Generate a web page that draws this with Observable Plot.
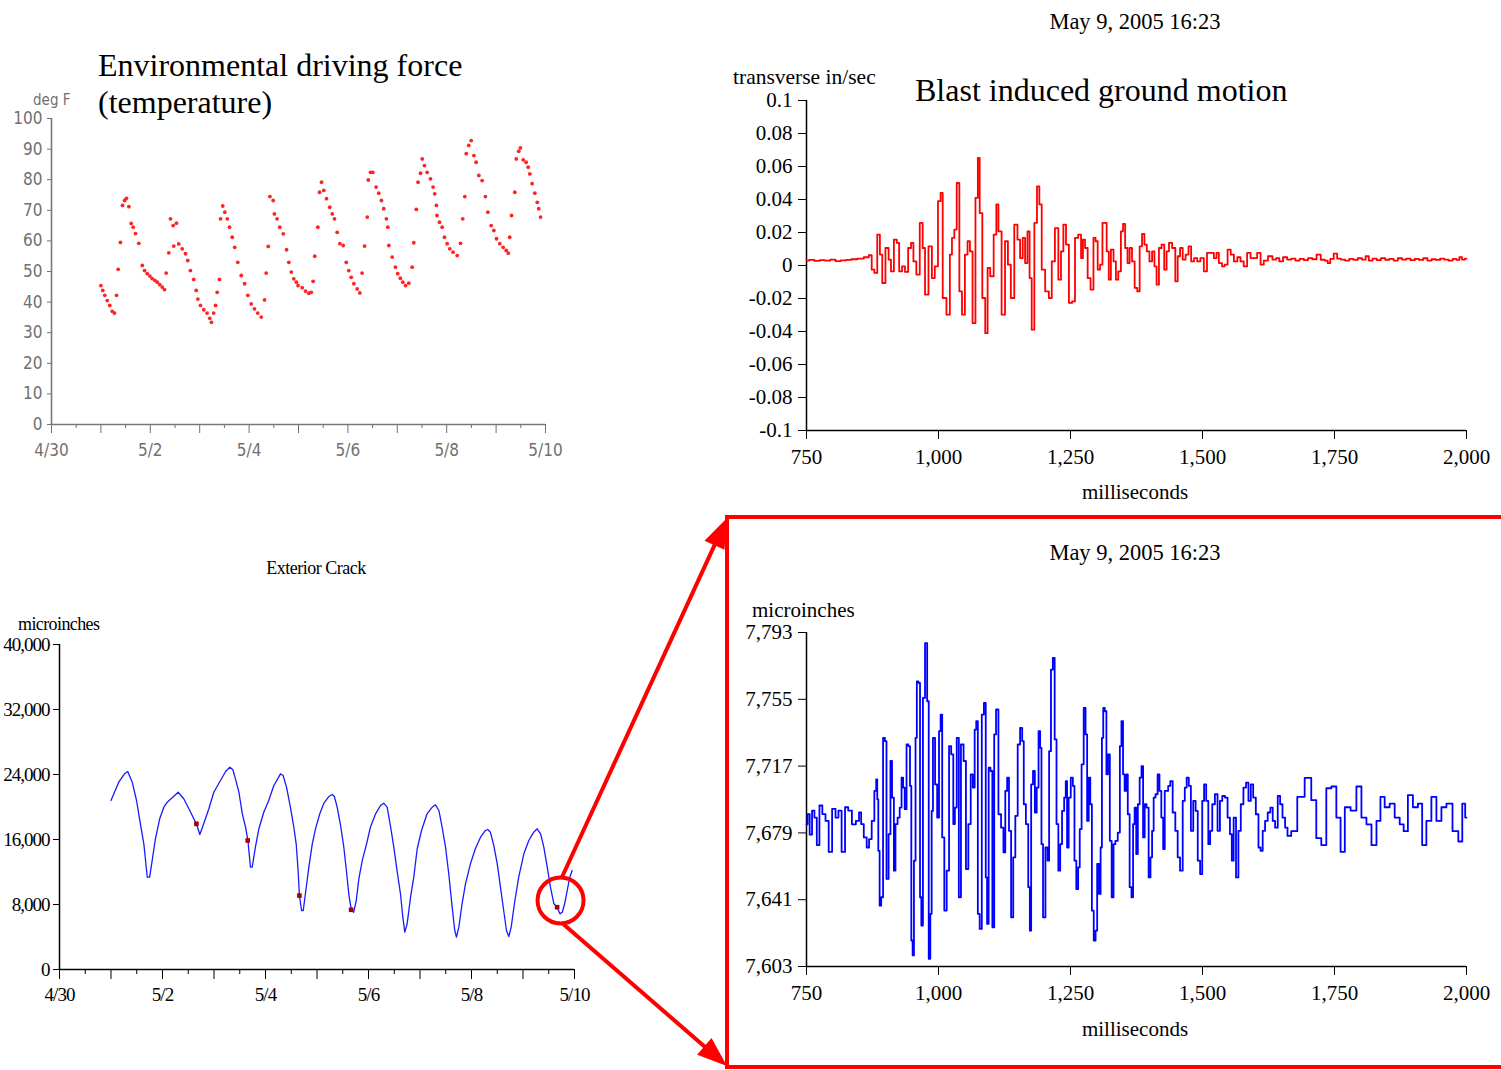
<!DOCTYPE html>
<html><head><meta charset="utf-8">
<script src="https://cdn.jsdelivr.net/npm/d3@7"></script>
<script src="https://cdn.jsdelivr.net/npm/@observablehq/plot@0.6"></script>
<style>
body{margin:0;background:#fff}
#page{position:relative;width:1501px;height:1070px;overflow:hidden;background:#fff;font-family:"Liberation Serif","Times New Roman",serif}
.lbl{position:absolute;white-space:nowrap;line-height:1;color:#000}
</style></head><body><div id="page"></div>
<script>
// ---------------- DATA ----------------
// Temperature (hours since 5/1/2005 00:00, deg F)
const tempHours = [0,0.9,1.9,3.1,4.3,5.5,6.6,7.6,8.4,9.5,10.5,11.5,12.4,13.6,14.7,15.7,16.8,18.4,20.1,21.2,22.5,23.8,24.9,26.2,27.4,28.6,29.8,30.9,31.7,33.0,33.8,35.1,35.4,36.7,37.8,39.5,41.1,42.2,43.5,45.1,46.3,47.1,48.4,50.0,51.6,52.9,53.7,54.8,55.7,56.5,57.6,58.1,59.2,60.2,61.4,62.5,63.8,65.0,66.5,68.2,69.8,71.4,73.0,74.6,76.2,77.9,79.5,80.3,81.3,82.1,83.7,84.3,85.6,86.9,88.6,90.2,91.3,92.5,93.7,95.0,95.8,97.8,99.4,101.0,102.2,103.1,103.9,105.4,106.2,107.2,108.3,109.6,111.2,112.4,113.5,114.8,116.1,117.7,119.2,120.4,121.6,122.9,124.5,125.8,126.9,128.1,129.4,129.9,131.0,132.1,133.7,135.0,136.3,137.4,138.7,139.4,139.9,141.5,143.1,144.2,145.5,146.7,148.0,149.6,151.2,152.0,153.2,154.1,155.3,156.1,157.2,158.5,160.1,161.4,162.2,163.0,163.3,164.5,165.8,166.9,168.2,169.5,171.1,173.1,174.7,175.8,176.8,177.5,178.7,179.9,181.2,182.3,183.6,185.2,186.8,188.0,189.6,190.9,192.2,193.8,195.4,196.9,197.9,198.6,199.5,201.1,201.8,203.0,203.8,205.2,206.6,207.6,208.4,209.5,210.8,212.0,212.7,213.6];
const tempDegF = [45.4,43.8,42.2,40.5,38.9,37.0,36.4,42.2,50.7,59.5,71.6,73.2,73.9,71.2,65.7,64.5,62.4,59.2,52.0,50.3,49.3,48.5,47.7,47.1,46.5,45.7,44.9,44.1,49.5,56.1,67.2,65.0,58.3,65.8,59.0,57.4,55.8,53.6,50.3,47.4,43.8,41.0,38.9,37.5,36.4,34.7,33.4,36.4,38.9,43.2,47.4,67.2,71.4,69.4,67.2,64.5,61.2,57.9,53.0,48.7,46.0,42.2,39.4,37.8,36.4,35.1,40.7,49.5,58.2,74.5,73.2,68.8,67.2,64.5,62.3,57.1,53.0,49.8,47.6,46.5,45.4,44.7,43.6,42.9,43.2,46.8,55.0,64.5,75.9,79.2,76.5,73.8,71.0,68.8,67.2,62.8,59.1,58.5,53.0,50.3,48.1,46.0,44.3,43.0,49.5,58.3,67.8,79.9,82.4,82.4,77.6,75.6,73.2,70.5,67.2,64.5,58.5,54.7,51.4,49.3,47.8,46.5,45.4,46.2,51.4,59.4,70.3,79.2,82.1,86.8,84.6,82.4,80.3,77.6,75.4,71.6,68.3,66.1,64.5,61.2,59.1,57.4,56.3,55.2,59.2,67.2,74.5,88.5,91.2,92.8,87.9,85.7,81.4,79.7,74.5,69.4,65.0,63.4,60.7,59.1,57.9,56.9,56.0,61.2,68.3,75.9,86.8,89.3,90.4,86.5,85.7,84.1,81.9,78.7,75.6,72.6,70.5,67.8];

// Exterior crack (hours since 5/1/2005 00:00, microinches)
const crackHours = [0,3.6,6.3,7.8,9.9,11.9,13.7,15.3,16.9,18.0,19.2,20.7,22.7,24.6,26.2,28.5,31.3,33.9,36.3,38.6,39.8,41.4,43.2,45.6,47.9,51.0,53.4,55.4,56.8,58.0,59.6,61.2,62.7,63.8,65.0,65.8,67.3,68.9,71.2,73.5,75.9,79.0,80.2,81.8,83.6,85.2,86.3,87.2,87.8,88.8,89.6,90.6,92.2,93.8,95.3,97.3,99.2,101.5,103.1,104.1,105.4,107.0,108.5,109.7,110.8,112.0,113.1,114.3,115.5,117.1,119.1,120.9,123.3,125.6,127.1,128.7,130.2,131.8,133.3,134.9,136.0,136.9,138.0,139.6,141.1,142.7,144.7,147.3,149.7,151.2,152.8,154.3,155.9,157.4,159.0,160.2,161.0,162.1,163.6,165.2,167.5,169.8,172.2,174.5,175.6,176.8,178.4,180.0,181.5,183.0,184.3,185.4,186.5,188.0,190.0,192.4,194.7,197.0,198.6,200.2,201.7,203.3,204.8,206.4,207.9,209.2,210.3,211.4,212.6,213.8,214.9];
const crackMicroin = [20800,23050,24080,24370,23050,20800,17930,15470,11360,11360,13420,16090,18550,19980,20590,21130,21820,21010,19780,18550,17930,16620,17930,19780,21820,23260,24370,24900,24580,23470,21820,19160,17510,15880,12590,12590,15050,17320,19360,20800,22650,24080,23880,22440,19980,17510,15470,12180,9100,7260,7260,9320,12590,15470,17320,19160,20470,21290,21540,21290,19980,17720,15050,12180,9320,7350,7050,8490,11160,13420,15470,17510,19160,20180,20470,19980,17720,15050,12180,9320,6440,4590,5620,8900,11360,14860,17110,19160,19980,20270,19570,17510,15050,11780,7670,4800,3980,5210,8090,10550,13010,14860,16280,17110,17230,16900,15260,13010,10130,7260,4800,4060,5210,8090,11360,14240,15880,16900,17320,16700,15050,12590,10130,8090,7670,6850,7050,8090,9720,11360,12180];
const crackMarkHours = [39.8, 63.7, 87.8, 111.9, 207.9];
const crackMarkMicroin = [17930, 15880, 9100, 7350, 7670];
const zoomCircleHours = 209.5;
const zoomCircleMicroin = 8490;

// Blast ground motion, transverse (ms, in/sec)
const blastMs = [750,760,770,780,790,800,810,820,830,840,852,865,871,876,881,887,891,896,903,908,912,919,923,928,934,939,946,950,955,961,968,972,977,985,990,996,1002,1006,1010,1020,1023,1028,1032,1037,1042,1047,1053,1057,1062,1067,1073,1076,1080,1086,1091,1095,1101,1108,1111,1116,1123,1129,1134,1140,1147,1152,1157,1162,1166,1171,1174,1179,1184,1189,1193,1198,1206,1212,1217,1224,1230,1234,1239,1244,1250,1256,1261,1268,1272,1275,1280,1285,1291,1296,1299,1304,1308,1313,1316,1321,1324,1329,1334,1338,1343,1348,1351,1356,1360,1364,1369,1374,1379,1383,1388,1392,1397,1402,1407,1411,1415,1420,1425,1430,1434,1439,1446,1451,1455,1460,1465,1471,1476,1481,1487,1493,1499,1506,1511,1518,1525,1528,1534,1540,1544,1551,1556,1563,1569,1575,1581,1588,1594,1600,1607,1613,1619,1629,1636,1643,1648,1657,1664,1672,1680,1688,1696,1704,1712,1720,1728,1735,1739,1745,1752,1758,1766,1774,1782,1790,1798,1806,1812,1818,1826,1834,1842,1850,1858,1866,1874,1882,1890,1898,1906,1914,1922,1930,1938,1946,1954,1962,1970,1978,1984,1989,1994,2000];
const blastInSec = [0.0030,0.0034,0.0028,0.0033,0.0030,0.0036,0.0027,0.0031,0.0034,0.0038,0.0042,0.0050,0.0062,-0.0025,-0.0045,0.0187,0.0066,-0.0106,0.0106,0.0036,-0.0035,0.0157,0.0137,-0.0035,-0.0005,-0.0039,0.0106,0.0137,0.0025,-0.0055,0.0258,0.0106,-0.0177,0.0116,-0.0076,-0.0005,0.0390,0.0440,-0.0197,-0.0298,0.0066,0.0167,0.0218,0.0500,-0.0157,-0.0298,0.0066,0.0147,0.0086,-0.0349,0.0410,0.0652,0.0318,-0.0197,-0.0410,-0.0015,-0.0065,0.0187,0.0370,0.0207,-0.0298,0.0147,0.0005,-0.0197,0.0248,0.0157,0.0045,0.0167,0.0015,0.0207,-0.0076,-0.0389,0.0258,0.0480,0.0370,-0.0025,-0.0157,-0.0197,0.0025,0.0227,-0.0086,0.0086,0.0248,0.0127,-0.0227,-0.0217,0.0167,0.0187,0.0045,0.0157,0.0106,-0.0076,-0.0146,0.0167,0.0147,-0.0025,0.0005,0.0258,0.0258,0.0086,-0.0086,0.0096,0.0025,-0.0086,-0.0035,0.0207,0.0252,0.0106,0.0015,0.0106,0.0025,-0.0136,-0.0157,0.0116,0.0191,0.0127,0.0086,0.0025,0.0086,-0.0005,-0.0116,0.0106,0.0127,-0.0025,0.0086,0.0137,0.0106,-0.0096,0.0056,0.0106,0.0036,0.0066,0.0116,0.0025,0.0045,0.0025,0.0045,-0.0035,0.0076,0.0076,0.0045,0.0076,0.0015,-0.0005,0.0005,0.0096,0.0066,0.0025,0.0050,0.0025,-0.0005,0.0076,0.0045,0.0045,0.0076,0.0005,0.0030,0.0056,0.0036,0.0045,0.0025,0.0050,0.0036,0.0042,0.0030,0.0040,0.0033,0.0045,0.0038,0.0066,0.0035,0.0030,0.0015,0.0040,0.0072,0.0042,0.0036,0.0030,0.0040,0.0034,0.0044,0.0036,0.0056,0.0030,0.0042,0.0033,0.0045,0.0035,0.0040,0.0030,0.0044,0.0036,0.0042,0.0032,0.0040,0.0034,0.0044,0.0030,0.0038,0.0034,0.0042,0.0036,0.0030,0.0040,0.0034,0.0050,0.0036,0.0042];

// Crack response during the blast (ms, microinches)
const crackBlastMs = [750,754,758,763,767,772,777,783,789,795,802,808,813,820,826,832,840,847,852,855,862,866,871,876,881,883,885,887,890,893,897,900,903,908,910,914,917,920,925,928,932,934,938,941,945,947,950,952,955,958,960,964,966,969,972,977,980,983,986,988,991,996,999,1003,1005,1009,1013,1018,1022,1026,1030,1032,1037,1040,1045,1050,1054,1059,1063,1067,1070,1073,1076,1080,1084,1088,1091,1093,1097,1100,1104,1107,1111,1116,1121,1125,1128,1132,1135,1140,1143,1148,1152,1157,1160,1163,1168,1172,1174,1177,1181,1184,1188,1191,1194,1196,1200,1205,1208,1211,1215,1218,1222,1225,1229,1232,1236,1240,1242,1245,1248,1253,1256,1259,1263,1266,1269,1273,1277,1280,1283,1286,1289,1292,1296,1299,1302,1306,1308,1311,1313,1317,1319,1323,1326,1330,1333,1337,1342,1345,1348,1351,1354,1357,1360,1364,1367,1370,1373,1376,1379,1383,1386,1389,1392,1396,1400,1403,1406,1409,1413,1417,1420,1424,1427,1430,1433,1437,1441,1446,1451,1455,1460,1465,1468,1472,1476,1480,1485,1489,1493,1498,1501,1505,1509,1513,1516,1521,1526,1531,1535,1540,1545,1550,1554,1557,1561,1566,1570,1575,1580,1585,1589,1594,1598,1604,1608,1612,1616,1621,1626,1631,1635,1640,1645,1649,1654,1659,1663,1673,1686,1701,1711,1720,1730,1739,1749,1758,1765,1774,1787,1796,1806,1815,1825,1834,1840,1850,1859,1869,1878,1884,1894,1903,1913,1919,1929,1938,1948,1957,1967,1980,1989,1995,2000];
const crackBlastMicroin = [7683.9,7689.7,7678,7691.7,7687.7,7672.1,7694.6,7689.7,7685.8,7668.2,7692.7,7687.7,7691.7,7668.2,7693.6,7691.7,7683.9,7685.8,7690.6,7684,7676.4,7670.7,7675.5,7685.8,7702.9,7709.5,7698.1,7668.8,7637.6,7642.4,7733.1,7731.2,7652.8,7678.3,7719.9,7699.1,7657.5,7684,7687.7,7693.4,7710.4,7704.8,7692.5,7729.3,7728.4,7705.7,7617.8,7609.3,7663.2,7733.1,7765.2,7764.3,7642.4,7626.3,7755.8,7787,7753.9,7607.4,7632.9,7691.5,7733.1,7706.6,7687.7,7736.9,7746.3,7676.4,7634.8,7657.5,7728.4,7723.7,7684,7693.4,7733.1,7642.4,7729.3,7719.9,7658.4,7684,7712.3,7704.8,7737.8,7742.6,7632.9,7624.4,7746.3,7753,7653.7,7627.2,7716.1,7714.2,7625.3,7735,7749.2,7689.6,7682,7667.9,7702.9,7710.4,7680.2,7631,7665.1,7688.7,7729.3,7738.8,7731.2,7695.3,7684,7648.1,7623.4,7706.6,7714.2,7690.6,7704.8,7736.9,7727.4,7672.6,7631,7670.7,7663.2,7725.5,7771.9,7778.5,7732.2,7684,7657.5,7672.6,7691.5,7699.1,7708.5,7670.7,7699.1,7710.4,7705.7,7663.2,7647.1,7659.4,7681.1,7718,7750.1,7735,7685.8,7710.4,7695.3,7634.8,7617.8,7623.4,7661.3,7644.3,7670.7,7733.1,7750.1,7748.2,7712.3,7723.7,7674.5,7642.4,7672.6,7674.5,7679.2,7728.4,7742.6,7712.3,7702.9,7712.3,7689.6,7648.1,7642.4,7684,7693.4,7667,7695.3,7710.4,7717,7676.4,7695.3,7693.4,7653.7,7665.1,7680.2,7699.1,7701,7712.3,7702.9,7687.7,7669.8,7702.9,7702.9,7705.7,7708.5,7690.6,7680.2,7665.1,7657.5,7697.2,7704.8,7710.4,7705.7,7680.2,7697.2,7691.5,7663.2,7655.6,7697.2,7706.6,7697.2,7672.6,7680.2,7695.3,7701,7680.2,7697.2,7700,7699.1,7687.7,7678.3,7663.2,7687.7,7653.7,7680.2,7695.3,7704.8,7707.6,7697.2,7706.6,7699.1,7689.6,7670.7,7668.8,7680.2,7685.8,7690.6,7693.4,7685.8,7682,7700,7695.3,7687.7,7682,7677.3,7680,7699.5,7710.3,7697.6,7676,7672.1,7704.4,7705.4,7687.7,7668.2,7693.6,7691.7,7705.4,7687.7,7683.9,7672.1,7685.8,7699.5,7693.6,7695.6,7687.7,7683.9,7680,7700.5,7693.6,7695.6,7672.1,7685.8,7699.5,7685.8,7693.6,7695.6,7680,7674.1,7695.6,7687.7];

// Axis ticks and labels
const dateTickLabels = ["4/30","5/2","5/4","5/6","5/8","5/10"];
const tempYTicks = [0,10,20,30,40,50,60,70,80,90,100];
const crackYTicks = [0,8000,16000,24000,32000,40000];
const blastYTicks = [0.1,0.08,0.06,0.04,0.02,0,-0.02,-0.04,-0.06,-0.08,-0.1];
const crackBlastYTicks = [7603,7641,7679,7717,7755,7793];
const msTicks = [750,1000,1250,1500,1750,2000];

// ---------------- BUILD ----------------
const START = new Date(2005, 4, 1);
const hrs = h => new Date(START.getTime() + h * 3600e3);
const D0 = new Date(2005, 3, 30), D1 = new Date(2005, 4, 10);
const dayTicks = d3.timeDay.range(D0, d3.timeHour.offset(D1, 1));
const halfDayTicks = dayTicks.slice(0, -1).map(d => d3.timeHour.offset(d, 12));
const fmtMD = d3.timeFormat("%-m/%-d");
const dateFmt = d => { const s = fmtMD(d); return dateTickLabels.includes(s) ? s : ""; };

const tempData = tempHours.map((h, i) => ({t: hrs(h), v: tempDegF[i]}));
const crackData = crackHours.map((h, i) => ({t: hrs(h), v: crackMicroin[i]}));
const crackMarks = crackMarkHours.map((h, i) => ({t: hrs(h), v: crackMarkMicroin[i]}));
const blastData = blastMs.map((m, i) => ({t: m, v: blastInSec[i]}));
const crackBlastData = crackBlastMs.map((m, i) => ({t: m, v: crackBlastMicroin[i]}));

const SERIF = '"Liberation Serif","Times New Roman",serif';
const NARROW = '"Liberation Sans Narrow","DejaVu Sans Condensed","Liberation Sans",sans-serif';
const page = document.getElementById("page");
function place(el, left, top) {
  el.style.position = "absolute"; el.style.left = left + "px"; el.style.top = top + "px";
  el.style.maxWidth = "none"; page.appendChild(el); return el;
}
function label(text, x, y, size, anchor = "start", extra = {}) {
  const d = document.createElement("div");
  d.className = "lbl"; d.textContent = text;
  d.style.left = x + "px"; d.style.top = y + "px"; d.style.fontSize = size + "px";
  d.style.transform = anchor === "middle" ? "translate(-50%,-50%)" : "translate(0,-50%)";
  Object.assign(d.style, extra);
  page.appendChild(d); return d;
}

// Top-left: temperature
const tempPlot = Plot.plot({
  width: 580, height: 380, marginLeft: 51, marginRight: 35, marginTop: 28, marginBottom: 46,
  style: {background: "transparent", overflow: "visible", fontFamily: NARROW, fontSize: "17px", color: "#707070"},
  x: {type: "time", domain: [D0, D1]},
  y: {domain: [0, 100]},
  marks: [
    Plot.axisY({ticks: tempYTicks, tickSize: 4, tickPadding: 5, label: null}),
    Plot.axisX({ticks: dayTicks, tickSize: 9, tickPadding: 10, tickFormat: dateFmt, label: null}),
    Plot.axisX({ticks: halfDayTicks, tickSize: 4, tickFormat: () => "", label: null}),
    Plot.ruleY([0], {stroke: "#777", strokeWidth: 1.6}),
    Plot.ruleX([D0], {y1: 0, y2: 100, stroke: "#777", strokeWidth: 1.6}),
    Plot.dot(tempData, {x: "t", y: "v", r: 1.9, fill: "#ff2424", stroke: null})
  ]
});
place(tempPlot, 0, 90);

// Top-right: blast transverse velocity
const blastPlot = Plot.plot({
  width: 801, height: 460, marginLeft: 106, marginRight: 35, marginTop: 40, marginBottom: 90,
  style: {background: "transparent", overflow: "visible", fontFamily: SERIF, fontSize: "21px", color: "#000"},
  x: {domain: [750, 2000]}, y: {domain: [-0.1, 0.1]},
  marks: [
    Plot.axisY({ticks: blastYTicks, tickSize: 8, tickPadding: 6, tickFormat: d => String(+d.toFixed(2)), label: null}),
    Plot.axisX({ticks: msTicks, tickSize: 9, tickPadding: 10, tickFormat: d3.format(","), label: null}),
    Plot.ruleY([-0.1], {strokeWidth: 1.5}),
    Plot.ruleX([750], {strokeWidth: 1.5}),
    Plot.line(blastData, {x: "t", y: "v", stroke: "#ff0000", strokeWidth: 1.8, curve: "step"})
  ]
});
place(blastPlot, 700, 60);

// Bottom-left: exterior crack
const crackPlot = Plot.plot({
  width: 600, height: 420, marginLeft: 59, marginRight: 26, marginTop: 44, marginBottom: 51,
  style: {background: "transparent", overflow: "visible", fontFamily: SERIF, fontSize: "19px", color: "#000", letterSpacing: "-1px"},
  x: {type: "time", domain: [D0, D1]},
  y: {domain: [0, 40000]},
  marks: [
    Plot.axisY({ticks: crackYTicks, tickSize: 6, tickPadding: 4, tickFormat: d3.format(","), label: null}),
    Plot.axisX({ticks: dayTicks, tickSize: 10, tickPadding: 8, tickFormat: dateFmt, label: null}),
    Plot.axisX({ticks: halfDayTicks, tickSize: 5, tickFormat: () => "", label: null}),
    Plot.ruleY([0], {strokeWidth: 1.5}),
    Plot.ruleX([D0], {y1: 0, y2: 40000, strokeWidth: 1.5}),
    Plot.line(crackData, {x: "t", y: "v", stroke: "#1a1aff", strokeWidth: 1.3}),
    Plot.dot(crackMarks, {x: "t", y: "v", symbol: "square", r: 2.6, fill: "#a80000", stroke: null}),
    Plot.dot([{t: hrs(zoomCircleHours), v: zoomCircleMicroin}], {x: "t", y: "v", r: 23, stroke: "#ff0000", strokeWidth: 4, fill: "none"})
  ]
});
place(crackPlot, 0, 600);

// Bottom-right: crack response to blast
const crackBlastPlot = Plot.plot({
  width: 771, height: 460, marginLeft: 76, marginRight: 35, marginTop: 32, marginBottom: 94,
  style: {background: "transparent", overflow: "visible", fontFamily: SERIF, fontSize: "21px", color: "#000"},
  x: {domain: [750, 2000]}, y: {domain: [7603, 7793]},
  marks: [
    Plot.axisY({ticks: crackBlastYTicks, tickSize: 8, tickPadding: 6, tickFormat: d3.format(","), label: null}),
    Plot.axisX({ticks: msTicks, tickSize: 9, tickPadding: 10, tickFormat: d3.format(","), label: null}),
    Plot.ruleY([7603], {strokeWidth: 1.5}),
    Plot.ruleX([750], {strokeWidth: 1.5}),
    Plot.line(crackBlastData, {x: "t", y: "v", stroke: "#0000ff", strokeWidth: 1.8, curve: "step"})
  ]
});
place(crackBlastPlot, 730, 600);

// Text labels
label("Environmental driving force", 98, 65, 32);
label("(temperature)", 98, 102, 32);
label("deg F", 33, 100, 15, "start", {fontFamily: NARROW, color: "#707070"});
label("May 9, 2005 16:23", 1135, 22, 22.5, "middle");
label("transverse in/sec", 733, 78, 21.5);
label("Blast induced ground motion", 915, 90, 32);
label("milliseconds", 1135, 492, 21, "middle");
label("Exterior Crack", 316, 568, 18, "middle", {letterSpacing: "-0.5px"});
label("microinches", 18, 624, 18, "start", {letterSpacing: "-0.6px"});
label("May 9, 2005 16:23", 1135, 553, 22.5, "middle");
label("microinches", 752, 610, 21);
label("milliseconds", 1135, 1029, 21, "middle");

// Overlay: zoom box and arrows
const cx = crackPlot.scale("x").apply(hrs(zoomCircleHours));
const cy = 600 + crackPlot.scale("y").apply(zoomCircleMicroin);
const R = 23;
const ov = d3.create("svg").attr("width", 1501).attr("height", 1070)
  .style("position", "absolute").style("left", "0px").style("top", "0px").style("pointer-events", "none");
ov.append("rect").attr("x", 727).attr("y", 517).attr("width", 800).attr("height", 550)
  .attr("fill", "none").attr("stroke", "#ff0000").attr("stroke-width", 4);
function arrow(x0, y0, x1, y1) {
  const dx = x1 - x0, dy = y1 - y0, L = Math.hypot(dx, dy), ux = dx / L, uy = dy / L;
  const hl = 30, hw = 11;
  const bx = x1 - ux * hl, by = y1 - uy * hl;
  ov.append("line").attr("x1", x0).attr("y1", y0).attr("x2", bx + ux * 4).attr("y2", by + uy * 4)
    .attr("stroke", "#ff0000").attr("stroke-width", 4);
  ov.append("polygon").attr("fill", "#ff0000")
    .attr("points", [[x1, y1], [bx - uy * hw, by + ux * hw], [bx + uy * hw, by - ux * hw]].map(p => p.join(",")).join(" "));
}
arrow(cx + 2, cy - R, 727, 518);
arrow(cx + 2, cy + R, 727, 1066);
page.appendChild(ov.node());
</script></body></html>
